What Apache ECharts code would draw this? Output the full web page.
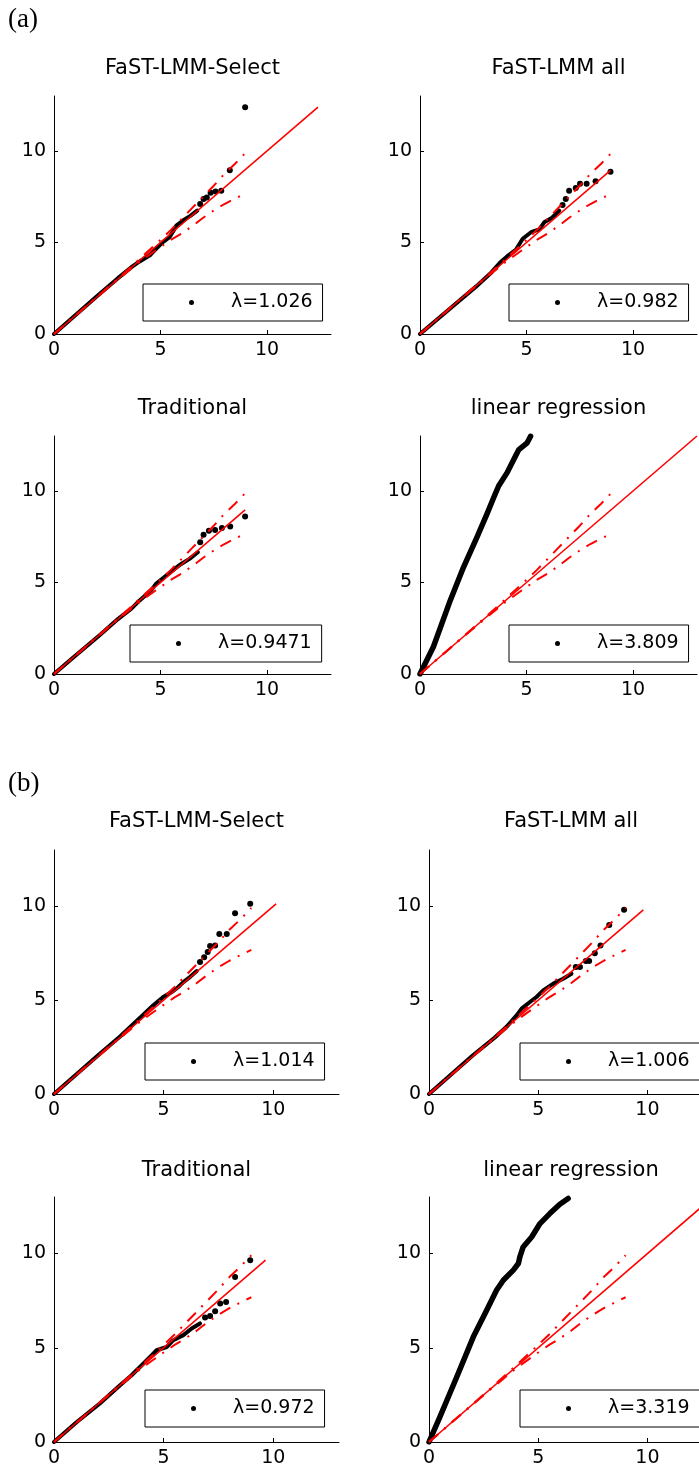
<!DOCTYPE html>
<html>
<head>
<meta charset="utf-8">
<title>QQ plots</title>
<script src="https://cdn.jsdelivr.net/npm/echarts@6/dist/echarts.min.js"></script>
<style>
  html, body { margin: 0; padding: 0; background: #fff; }
  #main { width: 699px; height: 1472px; }
</style>
</head>
<body>
<div id="main"></div>
<script>
// expected -log10(p) on x, observed -log10(p) on y
var panelTitles = ['FaST-LMM-Select', 'FaST-LMM all', 'Traditional', 'linear regression',
                   'FaST-LMM-Select', 'FaST-LMM all', 'Traditional', 'linear regression'];
var lambdas = ['λ=1.026', 'λ=0.982', 'λ=0.9471', 'λ=3.809', 'λ=1.014', 'λ=1.006', 'λ=0.972', 'λ=3.319'];
var tickValues = [0, 5, 10];
var diagEnd = [12.39, 8.94, 8.97, 13, 10.13, 9.81, 9.65, 13];

// dash-dot confidence band (same in every plot)
var bandUpper = [[0, 0], [2, 2.01], [3, 3.03], [4, 4.08], [5, 5.15], [5.5, 5.7], [6, 6.3], [6.5, 6.9], [7, 7.5], [7.5, 8.1], [8, 8.75], [8.5, 9.3], [9, 9.91]];
var bandLower = [[0, 0], [2, 1.99], [3, 2.97], [4, 3.92], [5, 4.75], [5.5, 5.15], [6, 5.5], [6.5, 5.9], [7, 6.35], [7.5, 6.75], [8, 7.1], [8.5, 7.4], [9, 7.68]];

// (a)
var a1Curve = [[0, 0], [1, 1.02], [2, 2.05], [3, 3.05], [3.6, 3.62], [4, 3.95], [4.5, 4.3], [4.72, 4.57], [5.11, 5.02], [5.42, 5.29], [5.66, 5.74], [5.74, 5.92], [6.05, 6.2], [6.4, 6.45], [6.72, 6.74]];
var a1Tail = [[6.86, 7.10], [7.02, 7.37], [7.17, 7.46], [7.35, 7.72], [7.58, 7.79], [7.85, 7.83], [8.25, 8.95], [8.97, 12.39]];
var a2Curve = [[0, 0], [1.4, 1.38], [2.64, 2.6], [3.3, 3.3], [3.8, 3.95], [4.1, 4.25], [4.5, 4.6], [4.82, 5.2], [5.21, 5.56], [5.6, 5.72], [5.83, 6.1], [6.2, 6.35], [6.53, 6.74]];
var a2Tail = [[6.69, 7.05], [6.84, 7.37], [7.0, 7.83], [7.31, 7.97], [7.51, 8.21], [7.82, 8.21], [8.24, 8.35], [8.94, 8.86]];
var a3Curve = [[0, 0], [1, 1.0], [2.14, 2.12], [3, 3.0], [3.63, 3.57], [4.02, 4.02], [4.56, 4.57], [4.8, 4.94], [5.27, 5.38], [5.66, 5.74], [5.97, 6.01], [6.36, 6.29], [6.75, 6.65]];
var a3Tail = [[6.86, 7.19], [7.02, 7.61], [7.27, 7.83], [7.56, 7.86], [7.88, 7.97], [8.27, 8.06], [8.97, 8.6]];
var a4Curve = [[0, 0], [0.63, 1.49], [1.42, 4.02], [2.04, 5.83], [2.67, 7.46], [3.14, 8.73], [3.46, 9.64], [3.69, 10.27], [4.09, 11.0], [4.4, 11.72], [4.64, 12.26], [5.03, 12.63], [5.19, 12.99]];

// (b)
var b1Curve = [[0, 0], [1, 1.02], [2, 2.05], [3, 3.05], [3.5, 3.6], [4, 4.15], [4.53, 4.73], [4.98, 5.17], [5.37, 5.43], [5.67, 5.7], [5.9, 5.96], [6.2, 6.23], [6.51, 6.55]];
var b1Tail = [[6.66, 7.03], [6.85, 7.29], [7.01, 7.56], [7.12, 7.88], [7.35, 7.91], [7.54, 8.53], [7.88, 8.53], [8.26, 9.63], [8.95, 10.13]];
var b2Curve = [[0, 0], [1, 1.02], [2, 2.05], [3, 3.0], [3.55, 3.58], [4.01, 4.19], [4.24, 4.55], [4.62, 4.9], [4.92, 5.17], [5.23, 5.52], [5.69, 5.88], [6.14, 6.14], [6.52, 6.41]];
var b2Tail = [[6.72, 6.76], [6.91, 6.76], [7.18, 7.08], [7.33, 7.08], [7.59, 7.5], [7.85, 7.91], [8.25, 9.01], [8.93, 9.81]];
var b3Curve = [[0, 0], [1, 1.02], [2.09, 2.04], [3, 3.0], [3.54, 3.54], [3.92, 3.98], [4.45, 4.6], [4.68, 4.87], [5.14, 5.04], [5.44, 5.4], [5.9, 5.67], [6.28, 6.02], [6.66, 6.29]];
var b3Tail = [[6.89, 6.61], [7.12, 6.68], [7.35, 6.94], [7.58, 7.35], [7.85, 7.43], [8.26, 8.76], [8.95, 9.65]];
var b4Curve = [[0, 0], [0.5, 1.33], [1.27, 3.45], [2.03, 5.58], [2.64, 6.99], [3.09, 8.05], [3.4, 8.58], [3.86, 9.12], [4.09, 9.47], [4.16, 9.82], [4.31, 10.35], [4.7, 10.88], [5.08, 11.59], [5.53, 12.12], [5.99, 12.62], [6.37, 12.92]];

var curves = [a1Curve, a2Curve, a3Curve, a4Curve, b1Curve, b2Curve, b3Curve, b4Curve];
var tails = [a1Tail, a2Tail, a3Tail, [], b1Tail, b2Tail, b3Tail, []];

// layout of the 8 plots
var boxes = [
  { left: 54, top: 96, width: 277, height: 238 },
  { left: 420, top: 96, width: 277, height: 238 },
  { left: 54, top: 436, width: 277, height: 238 },
  { left: 420, top: 436, width: 277, height: 238 },
  { left: 54, top: 850, width: 285, height: 244 },
  { left: 429, top: 850, width: 284, height: 244 },
  { left: 54, top: 1197, width: 285, height: 245 },
  { left: 429, top: 1197, width: 284, height: 245 }
];
var legendPos = [[143, 284], [509, 284], [130, 625], [509, 625], [145, 1043], [520, 1043], [145, 1390], [520, 1390]];
var titleY = [70, 70, 410, 410, 823, 823, 1172, 1172];

var FONT = 'DejaVu Sans';
var RED = '#ff0000';

var grid = [], xAxis = [], yAxis = [], series = [], legend = [], title = [];

title.push({ text: '(a)', left: 8, top: 6, padding: 0,
  textStyle: { fontFamily: 'Liberation Serif', fontSize: 27, fontWeight: 'normal', color: '#000' } });
title.push({ text: '(b)', left: 8, top: 770, padding: 0,
  textStyle: { fontFamily: 'Liberation Serif', fontSize: 27, fontWeight: 'normal', color: '#000' } });

for (var i = 0; i < 8; i++) {
  var b = boxes[i];
  var isLR = i === 3 || i === 7;
  grid.push({ left: b.left, top: b.top, width: b.width, height: b.height,
    containLabel: false, outerBoundsMode: 'none' });

  var axisCommon = {
    gridIndex: i, type: 'value', min: 0, max: 13, interval: 5,
    axisLine: { show: true, onZero: false, lineStyle: { color: '#000', width: 1 } },
    axisTick: { show: true, inside: true, length: 4, customValues: tickValues, lineStyle: { color: '#000' } },
    splitLine: { show: false }
  };
  xAxis.push(Object.assign({}, axisCommon, {
    axisLabel: { customValues: tickValues, color: '#000', fontSize: 19, fontFamily: FONT, margin: 7 }
  }));
  yAxis.push(Object.assign({}, axisCommon, {
    axisLabel: { customValues: tickValues, color: '#000', fontSize: 19, fontFamily: FONT, margin: 8 }
  }));

  title.push({
    text: panelTitles[i], left: b.left + b.width / 2, top: titleY[i] - 12, textAlign: 'center', padding: 0,
    textStyle: { fontFamily: FONT, fontSize: 21, fontWeight: 'normal', color: '#000' }
  });

  series.push({
    type: 'line', name: 'curve' + i, xAxisIndex: i, yAxisIndex: i, data: curves[i],
    showSymbol: false, silent: true, z: 2,
    lineStyle: { color: '#000', width: isLR ? 5.5 : 4, cap: 'round', join: 'round' }
  });
  series.push({
    type: 'scatter', name: lambdas[i], xAxisIndex: i, yAxisIndex: i, data: tails[i],
    symbolSize: 6, silent: true, z: 3, itemStyle: { color: '#000', opacity: 1 }
  });
  series.push({
    type: 'line', name: 'diag' + i, xAxisIndex: i, yAxisIndex: i,
    data: [[0, 0], [diagEnd[i], diagEnd[i]]],
    showSymbol: false, silent: true, z: 4, lineStyle: { color: RED, width: 1.6 }
  });
  series.push({
    type: 'line', name: 'upper' + i, xAxisIndex: i, yAxisIndex: i, data: bandUpper,
    showSymbol: false, silent: true, z: 4, lineStyle: { color: RED, width: 2, type: [12, 8, 2, 8] }
  });
  series.push({
    type: 'line', name: 'lower' + i, xAxisIndex: i, yAxisIndex: i, data: bandLower,
    showSymbol: false, silent: true, z: 4, lineStyle: { color: RED, width: 2, type: [12, 8, 2, 8] }
  });

  legend.push({
    left: legendPos[i][0], top: legendPos[i][1], orient: 'horizontal',
    data: [{ name: lambdas[i], icon: 'circle', itemStyle: { color: '#000', opacity: 1 } }],
    itemWidth: 5, itemHeight: 5, padding: [9, 10, 9, 46],
    borderColor: '#000', borderWidth: 1, borderRadius: 0, backgroundColor: '#fff',
    selectedMode: false,
    textStyle: { color: '#000', fontSize: 19, fontFamily: FONT, padding: [0, 0, 0, 32] }
  });
}

var myChart = echarts.init(document.getElementById('main'));
myChart.setOption({
  animation: false,
  backgroundColor: '#fff',
  title: title,
  legend: legend,
  grid: grid,
  xAxis: xAxis,
  yAxis: yAxis,
  series: series
});
window.onresize = function () {
  myChart.resize();
};
</script>
</body>
</html>
